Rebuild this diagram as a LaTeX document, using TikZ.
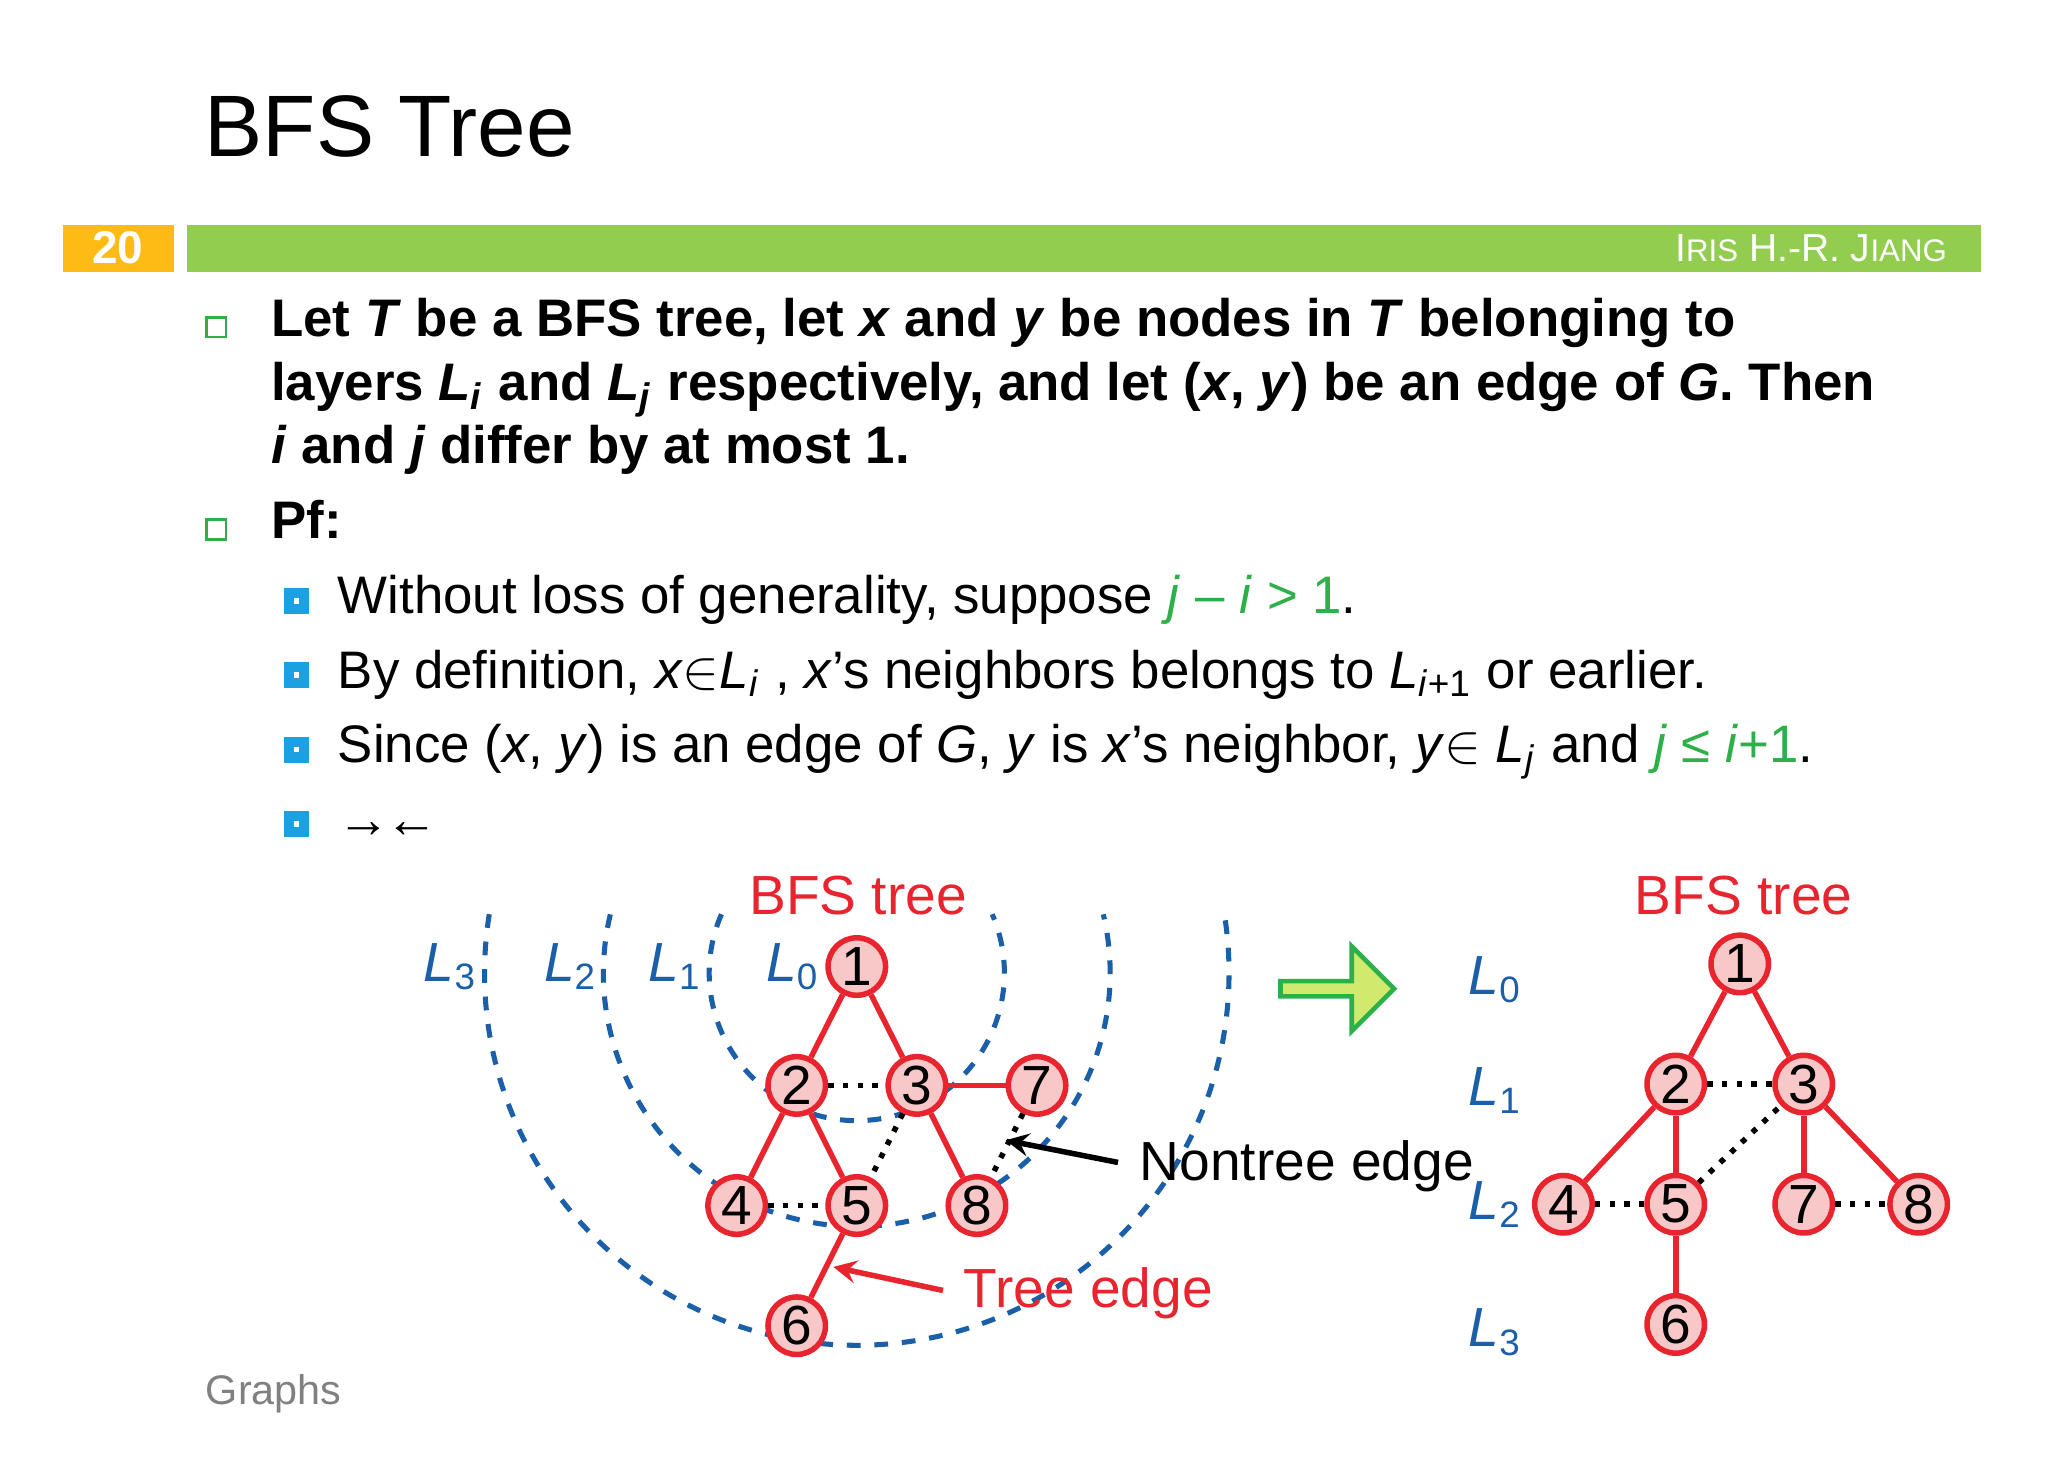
\documentclass[tikz,border=0pt]{standalone}
\usepackage{fontspec}
\setmainfont{Liberation Sans}
\usetikzlibrary{shapes.arrows}
\definecolor{nodered}{HTML}{E8242E}
\definecolor{nodefill}{HTML}{F8C8C8}
\definecolor{layerblue}{HTML}{1B5FA8}
\definecolor{barblue}{HTML}{1BA1E2}
\definecolor{hlgreen}{HTML}{2DB04A}
\definecolor{bargreen}{HTML}{92CD50}
\definecolor{barorange}{HTML}{FDBB14}
\tikzset{
  vtx/.style = {circle, draw=nodered, fill=nodefill, line width=1.2pt, minimum size=0.44cm, inner sep=0pt, font=\fontsize{12}{12}\selectfont},
  tree/.style = {nodered, line width=1.2pt},
  nontree/.style = {black, dotted, line width=1.2pt},
  layer/.style = {layerblue, dashed, line width=1.1pt},
  lab/.style = {layerblue, font=\fontsize{12}{12}\selectfont\itshape},
  body/.style = {anchor=base west, inner sep=0pt, font=\fontsize{11.5}{14}\selectfont},
}
\newcommand{\hl}[1]{\textcolor{hlgreen}{#1}}
\newcommand{\Lsub}[1]{\textit{L}\textsubscript{#1}}
\begin{document}
\begin{tikzpicture}[x=0.01cm, y=-0.01cm]
  \useasboundingbox[fill=white] (0,0) rectangle (1568,1115);
  % header
  \node[anchor=base west, inner sep=0pt, font=\fontsize{19}{19}\selectfont] (title) at (156,120) {BFS Tree};
  \fill[barorange] (48,172) rectangle (133,208);
  \fill[bargreen] (143,172) rectangle (1517,208);
  \node[white, font=\bfseries\fontsize{10}{10}\selectfont] (pagenum) at (90,190) {20};
  \node[white, anchor=east, font=\fontsize{8.5}{8.5}\selectfont] (author) at (1503,190) {I\scalebox{0.8}{RIS} H.-R. J\scalebox{0.8}{IANG}};
  % statement
  \foreach \y in {250,405}
    \draw[hlgreen, line width=0.6pt] (158,\y-7) rectangle (173,\y+8);
  \node[body, font=\bfseries\fontsize{11.5}{14}\selectfont] (l1) at (207,258) {Let \textit{T} be a BFS tree, let \textit{x} and \textit{y} be nodes in \textit{T} belonging to};
  \node[body, font=\bfseries\fontsize{11.5}{14}\selectfont] (l2) at (207,307) {layers \Lsub{\textit{i}} and \Lsub{\textit{j}} respectively, and let (\textit{x}, \textit{y}) be an edge of \textit{G}. Then};
  \node[body, font=\bfseries\fontsize{11.5}{14}\selectfont] (l3) at (207,355) {\textit{i} and \textit{j} differ by at most 1.};
  \node[body, font=\bfseries\fontsize{11.5}{14}\selectfont] (pf) at (207,412) {Pf:};
  % proof
  \foreach \y in {460,517,574,631}
    \draw[barblue, line width=2.2pt] (221,\y-6) rectangle (233,\y+6);
  \node[body] (s1) at (258,470) {Without loss of generality, suppose \hl{\textit{j} -- \textit{i} > 1}.};
  \node[body] (s2) at (258,527) {By definition, \textit{x}$\in$\Lsub{\textit{i}} , \textit{x}'s neighbors belongs to \Lsub{\textit{i}+1} or earlier.};
  \node[body] (s3) at (258,584) {Since (\textit{x}, \textit{y}) is an edge of \textit{G}, \textit{y} is \textit{x}'s neighbor, \textit{y}$\in$ \Lsub{\textit{j}} and \hl{\textit{j} \symbol{"2264} \textit{i}+1}.};
  \node[body] (s4) at (258,641) {\symbol{"2192}\kern-0.1em\symbol{"2190}};
  % layers of the left graph
  \draw[layer] (656,745) ++(203.5:113) arc[start angle=203.5, end angle=-23.5, radius=113];
  \draw[layer] (656,745) ++(193.4:194) arc[start angle=193.4, end angle=-13.4, radius=194];
  \draw[layer] (656,745) ++(189.1:285) arc[start angle=189.1, end angle=-9.1, radius=285];
  \node[lab] (lL3) at (345,740) {L\textsubscript{\upshape 3}};
  \node[lab] (lL2) at (437,740) {L\textsubscript{\upshape 2}};
  \node[lab] (lL1) at (517,740) {L\textsubscript{\upshape 1}};
  \node[lab] (lL0) at (607,740) {L\textsubscript{\upshape 0}};
  \node[nodered, font=\fontsize{12}{12}\selectfont] (lcap) at (657,686) {BFS tree};
  % left graph
  \node[vtx] (a1) at (656,740) {1};
  \node[vtx] (a2) at (610,831) {2};
  \node[vtx] (a3) at (702,831) {3};
  \node[vtx] (a7) at (794,831) {7};
  \node[vtx] (a4) at (564,923) {4};
  \node[vtx] (a5) at (656,923) {5};
  \node[vtx] (a8) at (748,923) {8};
  \node[vtx] (a6) at (610,1015) {6};
  \foreach \u/\v in {a1/a2, a1/a3, a2/a4, a2/a5, a3/a7, a3/a8, a5/a6}
    \draw[tree] (\u) -- (\v);
  \foreach \u/\v in {a2/a3, a4/a5, a3/a5, a7/a8}
    \draw[nontree] (\u) -- (\v);
  \node[anchor=west, inner sep=0pt, font=\fontsize{12}{12}\selectfont] (ntlab) at (872,893) {Nontree edge};
  \node[anchor=west, inner sep=0pt, nodered, font=\fontsize{12}{12}\selectfont] (tlab) at (737,990) {Tree edge};
  \coordinate (nthead) at (770,873);
  \coordinate (thead) at (638,970);
  \draw[->, >=stealth, line width=1.2pt] (856,890) -- (nthead);
  \draw[->, >=stealth, nodered, line width=1.2pt] (722,988) -- (thead);
  % big arrow
  \node[single arrow, draw=hlgreen, fill=bargreen!60!yellow!70, line width=1pt, minimum height=0.87cm, minimum width=0.65cm, single arrow head extend=0.08cm, inner sep=0pt] (bigarrow) at (1021,757) {};
  % right graph
  \node[nodered, font=\fontsize{12}{12}\selectfont] (rcap) at (1335,686) {BFS tree};
  \node[lab] (rL0) at (1145,750) {L\textsubscript{\upshape 0}};
  \node[lab] (rL1) at (1145,835) {L\textsubscript{\upshape 1}};
  \node[lab] (rL2) at (1145,922) {L\textsubscript{\upshape 2}};
  \node[lab] (rL3) at (1145,1020) {L\textsubscript{\upshape 3}};
  \node[vtx] (b1) at (1332,738) {1};
  \node[vtx] (b2) at (1283,830) {2};
  \node[vtx] (b3) at (1381,830) {3};
  \node[vtx] (b4) at (1197,922) {4};
  \node[vtx] (b5) at (1283,922) {5};
  \node[vtx] (b7) at (1381,922) {7};
  \node[vtx] (b8) at (1469,922) {8};
  \node[vtx] (b6) at (1283,1014) {6};
  \foreach \u/\v in {b1/b2, b1/b3, b2/b4, b2/b5, b3/b7, b3/b8, b5/b6}
    \draw[tree] (\u) -- (\v);
  \foreach \u/\v in {b2/b3, b4/b5, b5/b3, b7/b8}
    \draw[nontree] (\u) -- (\v);
  % footer
  \node[anchor=base west, inner sep=0pt, gray, font=\fontsize{9}{9}\selectfont] (footer) at (157,1075) {Graphs};
\end{tikzpicture}
\end{document}
